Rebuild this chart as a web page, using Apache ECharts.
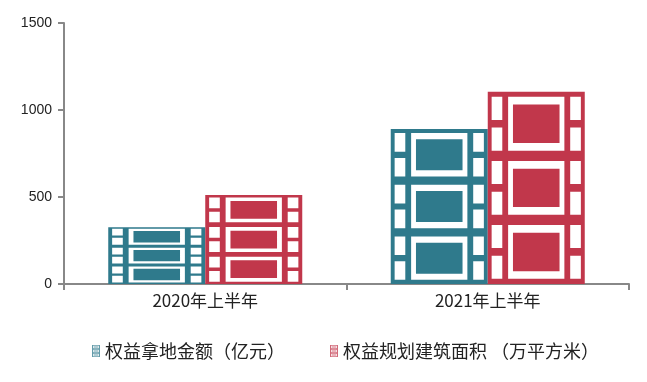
<!DOCTYPE html>
<html>
<head>
<meta charset="utf-8">
<script src="https://cdn.jsdelivr.net/npm/echarts@6/dist/echarts.min.js"></script>
<style>
html,body{margin:0;padding:0;background:#fff;}
#chart{width:647px;height:382px;}
</style>
</head>
<body>
<div id="chart"></div>
<script>
const categories = ['2020年上半年', '2021年上半年'];
const seriesNames = ['权益拿地金额（亿元）', '权益规划建筑面积 （万平方米）'];
const landAmount = [326, 891];
const buildArea = [511, 1105];
const yMin = 0, yMax = 1500, yInterval = 500;

function cw(x1, y1, x2, y2) { return 'M' + x1 + ' ' + y1 + 'H' + x2 + 'V' + y2 + 'H' + x1 + 'Z'; }
function ccw(x1, y1, x2, y2) { return 'M' + x1 + ' ' + y1 + 'V' + y2 + 'H' + x2 + 'V' + y1 + 'Z'; }
let filmBody = cw(0, 0, 100, 300);
for (let k = 0; k < 3; k++) {
  const o = k * 100;
  filmBody +=
    ccw(4, o + 8, 15, o + 44) + ccw(4, o + 56, 15, o + 92) +
    ccw(85, o + 8, 96, o + 44) + ccw(85, o + 56, 96, o + 92) +
    ccw(21, o + 8, 79, o + 92) +
    cw(26, o + 20, 74, o + 80);
}
const filmPath = 'path://' + filmBody;
const iconPath = 'path://' + cw(0, 0, 100, 150) +
  ccw(15, 10, 85, 40) + cw(25, 18, 75, 32) +
  ccw(15, 60, 85, 90) + cw(25, 68, 75, 82) +
  ccw(15, 110, 85, 140) + cw(25, 118, 75, 132);

const blue = '#2f7a8c';
const red = '#c1374b';

const chart = echarts.init(document.getElementById('chart'), null, {renderer: 'canvas'});
chart.setOption({
  animation: false,
  grid: {left: 64, right: 18, top: 23, bottom: 98, containLabel: false},
  legend: {
    left: 87, top: 337,
    itemWidth: 8, itemHeight: 12, itemGap: 45,
    textStyle: {fontSize: 18, color: '#222', fontFamily: 'Noto Sans CJK SC'},
    data: [
      {name: seriesNames[0], icon: iconPath, itemStyle: {color: blue, opacity: 0.75}},
      {name: seriesNames[1], icon: iconPath, itemStyle: {color: red, opacity: 0.75}}
    ]
  },
  xAxis: {
    type: 'category', data: categories,
    axisLine: {lineStyle: {color: '#888', width: 2}},
    axisTick: {show: true, length: 6, lineStyle: {color: '#888', width: 2}},
    axisLabel: {fontSize: 17, color: '#222', margin: 8, fontFamily: 'Noto Sans CJK SC'}
  },
  yAxis: {
    type: 'value', min: yMin, max: yMax, interval: yInterval,
    splitLine: {show: false},
    axisLine: {show: true, lineStyle: {color: '#888', width: 2}},
    axisTick: {show: true, length: 6, lineStyle: {color: '#888', width: 2}},
    axisLabel: {fontSize: 14, color: '#222', margin: 12, fontFamily: 'Liberation Sans',
      formatter: function (v) { return String(v); }}
  },
  series: [
    {
      type: 'pictorialBar', name: seriesNames[0], data: landAmount,
      symbol: filmPath, symbolSize: ['100%', '100%'],
      symbolKeepAspect: false,
      barWidth: 97, barGap: 0,
      itemStyle: {color: blue}
    },
    {
      type: 'pictorialBar', name: seriesNames[1], data: buildArea,
      symbol: filmPath, symbolSize: ['100%', '100%'],
      symbolKeepAspect: false,
      barWidth: 97, barGap: 0,
      itemStyle: {color: red}
    }
  ]
});
</script>
</body>
</html>
